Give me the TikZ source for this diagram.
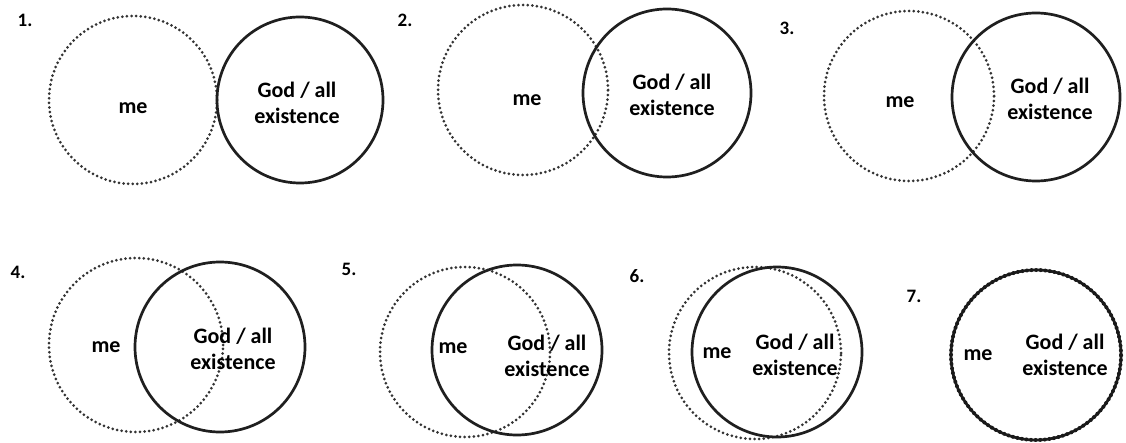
\documentclass[tikz,border=0pt]{standalone}
\usepackage{fontspec}
\setmainfont{Carlito}
\usepackage{tikz}
\newcommand{\LabelFont}{\fontsize{22}{26}\selectfont\bfseries}
\newcommand{\StepFont}{\fontsize{19}{22}\selectfont\bfseries}
\tikzset{
  mering/.style={draw=black!80,line width=3pt,dash pattern=on 0pt off 4.6pt,line cap=round},
  godring/.style={draw=black!88,line width=2.7pt},
  word/.style={font=\LabelFont,align=center,inner sep=0pt},
  stepnum/.style={font=\StepFont,inner sep=0pt}
}

\begin{document}
\begin{tikzpicture}[x=1pt,y=1pt]
  \useasboundingbox[fill=white] (0,0) rectangle (1126,442);
  % 1.
  \node[stepnum] (n1) at (25,422) {1.};
  \draw[mering] (133,342) circle[radius=84pt];
  \draw[godring] (300,342) circle[radius=83pt];
  \node[word] (me1) at (133,334) {me};
  \node[word] (god1) at (297,339) {God / all\\existence};
  % 2.
  \node[stepnum] (n2) at (405,422) {2.};
  \draw[mering] (523,352) circle[radius=85pt];
  \draw[godring] (667,349) circle[radius=84pt];
  \node[word] (me2) at (527,342) {me};
  \node[word] (god2) at (672,347) {God / all\\existence};
  % 3.
  \node[stepnum] (n3) at (787,414) {3.};
  \draw[mering] (909,346) circle[radius=85pt];
  \draw[godring] (1036,345) circle[radius=84pt];
  \node[word] (me3) at (900,340) {me};
  \node[word] (god3) at (1050,343) {God / all\\existence};
  % 4.
  \node[stepnum] (n4) at (18,170) {4.};
  \draw[mering] (136,97) circle[radius=87pt];
  \draw[godring] (220,95) circle[radius=85pt];
  \node[word] (me4) at (106,95) {me};
  \node[word] (god4) at (233,93) {God / all\\existence};
  % 5.
  \node[stepnum] (n5) at (349,173) {5.};
  \draw[mering] (465,90) circle[radius=85pt];
  \draw[godring] (517,92) circle[radius=85pt];
  \node[word] (me5) at (453,94) {me};
  \node[word] (god5) at (547,86) {God / all\\existence};
  % 6.
  \node[stepnum] (n6) at (637,166) {6.};
  \draw[mering] (755,89) circle[radius=86pt];
  \draw[godring] (777,90) circle[radius=85pt];
  \node[word] (me6) at (717,89) {me};
  \node[word] (god6) at (795,87) {God / all\\existence};
  % 7.
  \node[stepnum] (n7) at (914,146) {7.};
  \draw[godring] (1036,87) circle[radius=85pt];
  \draw[mering,line width=4pt,draw=black!90] (1036,87) circle[radius=85pt];
  \node[word] (me7) at (978,87) {me};
  \node[word] (god7) at (1065,87) {God / all\\existence};
\end{tikzpicture}
\end{document}
